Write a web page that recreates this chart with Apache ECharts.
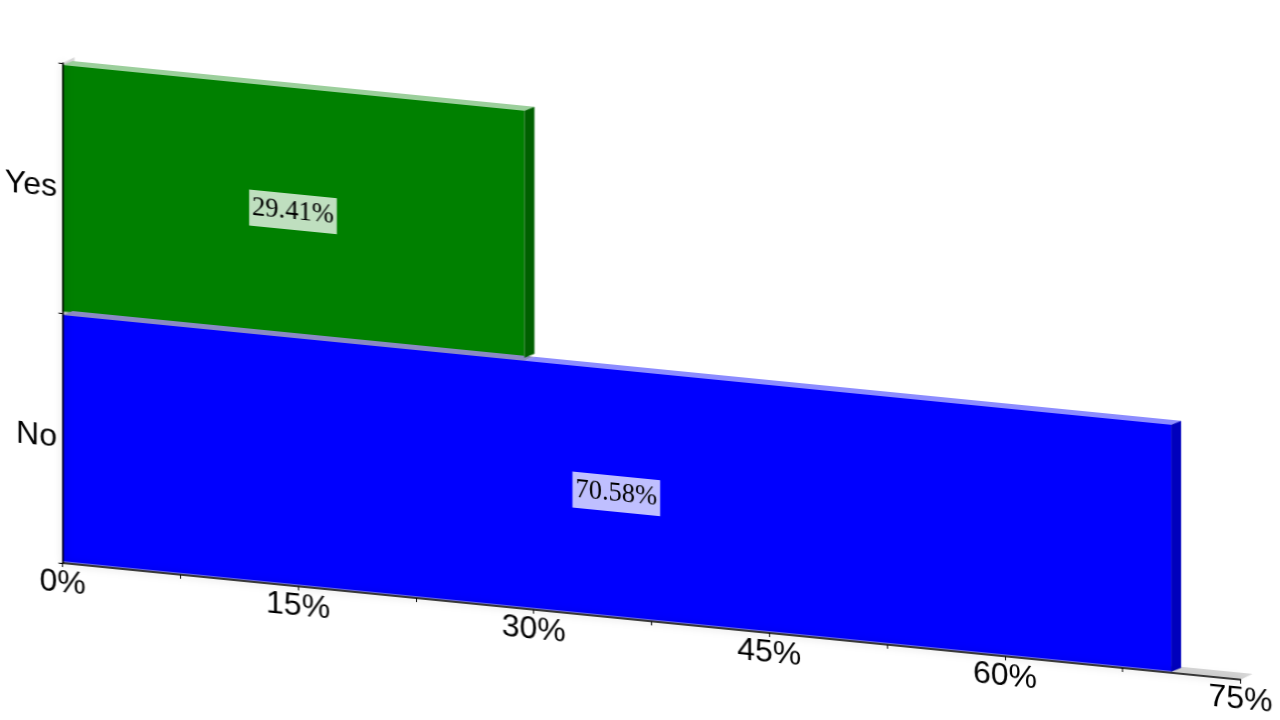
<!DOCTYPE html>
<html>
<head>
<meta charset="utf-8">
<style>
html,body{margin:0;padding:0;background:#fff;overflow:hidden;width:1280px;height:720px}
#chart{width:1280px;height:720px;transform-origin:62px 0;transform:matrix(1,0.099,0,1,0,0)}
</style>
<script src="https://cdn.jsdelivr.net/npm/echarts@6/dist/echarts.min.js"></script>
</head>
<body>
<div id="chart"></div>
<script>
const categories = ['Yes', 'No'];
const values = [29.41, 70.58];
const axisMin = 0;
const axisMax = 75;
const tickInterval = 15;

const frontColors = ['#008000', '#0000ff'];
const topColors = ['#9ccf9c', '#8c8cff'];
const sideColors = ['#006000', '#0000bc'];
const overlapColor = '#8a8ac4';
const wallColor = '#d6d6d6';

const BAR_H = 247, DX = 10, DY = -5, WALL_DX = 12, WALL_DY = -7;

function face(points, fill) {
  return { type: 'polygon', shape: { points: points }, style: { fill: fill, stroke: null } };
}

function renderWalls(params, api) {
  const band = api.size([0, 1])[1];
  const bl = api.coord([axisMin, 1]);
  const tl = api.coord([axisMin, 0]);
  const br = api.coord([axisMax, 1]);
  const by = bl[1] + band / 2, ty = tl[1] - band / 2, x0 = bl[0], x1 = br[0];
  return { type: 'group', children: [
    face([[x0, by], [x1, by], [x1 + WALL_DX, by + WALL_DY], [x0 + WALL_DX, by + WALL_DY]], wallColor),
    face([[x0, ty], [x0 + WALL_DX, ty + WALL_DY], [x0 + WALL_DX, by + WALL_DY], [x0, by]], wallColor)
  ]};
}

function renderFaces(params, api) {
  const idx = api.value(1);
  const c0 = api.coord([axisMin, idx]);
  const c1 = api.coord([api.value(0), idx]);
  const top = c0[1] - BAR_H / 2 + 0.5, bot = c0[1] + BAR_H / 2 + 0.5;
  const strip = (a, b, fill) => face([[a, top], [b, top], [b + DX, top + DY], [a + DX, top + DY]], fill);
  const kids = [];
  if (idx === 1) {
    const mid = api.coord([values[0], idx])[0];
    kids.push(strip(c0[0], mid, overlapColor), strip(mid, c1[0], topColors[idx]));
  } else {
    kids.push(strip(c0[0], c1[0], topColors[idx]));
  }
  kids.push(face([[c1[0], top], [c1[0] + DX, top + DY], [c1[0] + DX, bot + DY], [c1[0], bot]], sideColors[idx]));
  return { type: 'group', children: kids };
}

const chart = echarts.init(document.getElementById('chart'), null, { renderer: 'canvas' });
chart.setOption({
  animation: false,
  backgroundColor: 'transparent',
  grid: { left: 62.5, right: 39.5, top: 63, bottom: 157 },
  xAxis: {
    type: 'value', min: axisMin, max: axisMax, interval: tickInterval, z: 5,
    axisLine: { show: true, lineStyle: { color: '#000', width: 1.5, shadowBlur: 8, shadowColor: 'rgba(0,0,0,0.3)' } },
    axisTick: { show: true, length: 4, lineStyle: { color: '#000', width: 1 } },
    minorTick: { show: true, splitNumber: 2, length: 4, lineStyle: { color: '#000', width: 1 } },
    splitLine: { show: false },
    axisLabel: { formatter: '{value}%', color: '#000', fontFamily: 'Liberation Sans', fontSize: 32, margin: 4, showMinLabel: true, showMaxLabel: true, hideOverlap: false }
  },
  yAxis: {
    type: 'category', data: categories, inverse: true, z: 5,
    axisLine: { show: true, lineStyle: { color: '#000', width: 1.5, shadowBlur: 8, shadowColor: 'rgba(0,0,0,0.3)' } },
    axisTick: { show: true, length: 4, lineStyle: { color: '#000', width: 1 } },
    splitLine: { show: false },
    axisLabel: { color: '#000', fontFamily: 'Liberation Sans', fontSize: 32, margin: 5.5, padding: [2, 0, 0, 0] }
  },
  series: [
    { type: 'custom', z: 1, silent: true, renderItem: renderWalls, data: [[axisMax, 1]], encode: { x: 0, y: 1 } },
    {
      type: 'bar', z: 2, barWidth: BAR_H, barGap: '-100%',
      data: values.map((v, i) => ({ value: v, itemStyle: { color: frontColors[i] } })),
      label: {
        show: true, position: 'inside', offset: [-0.5, 1], formatter: p => p.value.toFixed(2) + '%',
        color: '#000', fontFamily: 'Liberation Serif', fontSize: 26.5, lineHeight: 30,
        backgroundColor: 'rgba(255,255,255,0.75)', padding: [3, 3, 3, 3]
      }
    },
    {
      type: 'custom', z: 3, silent: true, renderItem: renderFaces,
      data: [[values[1], 1], [values[0], 0]], encode: { x: 0, y: 1 }
    }
  ]
});
</script>
</body>
</html>
